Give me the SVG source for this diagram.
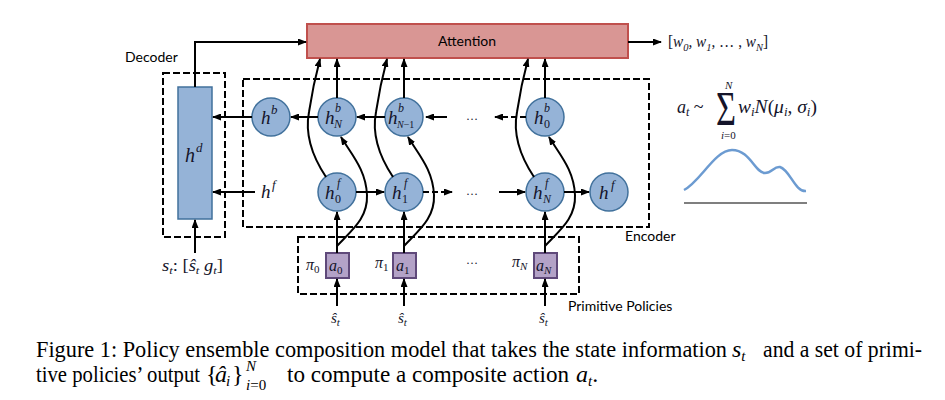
<svg xmlns="http://www.w3.org/2000/svg" width="945" height="400" viewBox="0 0 945 400">
<defs>
<marker id="ah" markerUnits="userSpaceOnUse" markerWidth="9" markerHeight="7" refX="8" refY="3.5" orient="auto">
<path d="M0,0 L9,3.5 L0,7 z" fill="#000"/>
</marker>
<style>
.m{font-family:"Liberation Serif","DejaVu Serif",serif;font-style:italic;fill:#14142a}
.r{font-family:"Liberation Serif","DejaVu Serif",serif;font-style:normal;fill:#14142a}
.lbl{font-family:Lato,"Open Sans",sans-serif;font-size:14px;fill:#000}
.cap{font-family:"Liberation Serif","Times New Roman",serif;fill:#000}
.node{fill:#95b3d7;stroke:#41719c;stroke-width:1.5}
.pol{fill:#b3a2c7;stroke:#5f497a;stroke-width:2}
.dash{fill:none;stroke:#000;stroke-width:2;stroke-dasharray:7,3}
.arr{fill:none;stroke:#000;stroke-width:2;marker-end:url(#ah)}
.darr{fill:none;stroke:#000;stroke-width:2;stroke-dasharray:6,3;marker-end:url(#ah)}
</style>
</defs>
<rect width="945" height="400" fill="#fff"/>

<g id="decoder">
<rect class="dash" x="163" y="73" width="62" height="164"/>
<text class="lbl" x="125" y="62">Decoder</text>
<rect class="node" x="178" y="87" width="34" height="132"/>
<text class="m" x="185" y="162" font-size="20">h</text><text class="m" x="196" y="152" font-size="13">d</text>
</g>
<g id="encoder">
<rect class="dash" x="243" y="79" width="406" height="148"/>
<text class="lbl" x="625" y="241">Encoder</text>
</g>
<g id="primitive-policies">
<rect class="dash" x="298" y="237" width="281" height="57"/>
<text class="lbl" x="568" y="311">Primitive Policies</text>
</g>

<g id="attention">
<rect x="307" y="24" width="321" height="34" fill="#d99694" stroke="#c0504d" stroke-width="2"/>
<text class="lbl" x="467" y="46" text-anchor="middle">Attention</text>
</g>
<g id="weights">
<text class="m" x="668" y="47" font-size="16" textLength="100" lengthAdjust="spacingAndGlyphs"><tspan class="r">[</tspan>w<tspan font-size="11" dy="4">0</tspan><tspan dy="-4">, w</tspan><tspan font-size="11" dy="4">1</tspan><tspan dy="-4" class="r">, … , </tspan>w<tspan font-size="11" dy="4">N</tspan><tspan dy="-4" class="r">]</tspan></text>
</g>

<g id="hb"><circle class="node" cx="271" cy="117" r="19"/><text class="m" x="261" y="124" font-size="19">h</text><text class="m" x="271" y="114" font-size="13">b</text></g>
<g id="hbN"><circle class="node" cx="337" cy="117" r="19"/><text class="m" x="325" y="124" font-size="19">h</text><text class="m" x="335" y="112" font-size="12">b</text><text class="m" x="334" y="128" font-size="12">N</text></g>
<g id="hbN1"><circle class="node" cx="404" cy="117" r="19"/><text class="m" x="388" y="124" font-size="19">h</text><text class="m" x="398" y="112" font-size="12">b</text><text class="m" x="397" y="128" font-size="10">N<tspan class="r">−1</tspan></text></g>
<g id="hb0"><circle class="node" cx="545" cy="117" r="19"/><text class="m" x="534" y="124" font-size="19">h</text><text class="m" x="544" y="112" font-size="12">b</text><text class="r" x="544" y="128" font-size="12">0</text></g>

<g id="hf-label"><text class="m" x="261" y="198" font-size="19">h</text><text class="m" x="272" y="189" font-size="13">f</text></g>
<g id="hf0"><circle class="node" cx="337" cy="192" r="19"/><text class="m" x="325" y="199" font-size="19">h</text><text class="m" x="337" y="187" font-size="12">f</text><text class="r" x="335" y="203" font-size="12">0</text></g>
<g id="hf1"><circle class="node" cx="404" cy="192" r="19"/><text class="m" x="392" y="199" font-size="19">h</text><text class="m" x="404" y="187" font-size="12">f</text><text class="r" x="402" y="203" font-size="12">1</text></g>
<g id="hfN"><circle class="node" cx="545" cy="192" r="19"/><text class="m" x="533" y="199" font-size="19">h</text><text class="m" x="545" y="187" font-size="12">f</text><text class="m" x="543" y="203" font-size="12">N</text></g>
<g id="hf"><circle class="node" cx="609" cy="192" r="19"/><text class="m" x="599" y="199" font-size="19">h</text><text class="m" x="611" y="189" font-size="13">f</text></g>

<g id="pi0"><rect class="pol" x="326" y="253" width="23" height="25"/><text class="m" x="329" y="271" font-size="16">a<tspan class="r" font-size="11" dy="3">0</tspan></text><text class="m" x="306" y="270" font-size="16">π<tspan class="r" font-size="11" dy="3">0</tspan></text></g>
<g id="pi1"><rect class="pol" x="393" y="253" width="23" height="25"/><text class="m" x="396" y="271" font-size="16">a<tspan class="r" font-size="11" dy="3">1</tspan></text><text class="m" x="375" y="268" font-size="16">π<tspan class="r" font-size="11" dy="3">1</tspan></text></g>
<g id="piN"><rect class="pol" x="534" y="253" width="23" height="25"/><text class="m" x="536" y="271" font-size="16">a<tspan font-size="11" dy="3">N</tspan></text><text class="m" x="512" y="267" font-size="16">π<tspan font-size="11" dy="3">N</tspan></text></g>

<g id="dots">
<text class="r" x="472" y="120" font-size="12" text-anchor="middle">…</text>
<text class="r" x="472" y="195" font-size="12" text-anchor="middle">…</text>
<text class="r" x="472" y="264" font-size="12" text-anchor="middle">…</text>
</g>

<g id="inputs">
<text class="m" x="331" y="323" font-size="15">ŝ<tspan font-size="11" dy="3">t</tspan></text>
<text class="m" x="398" y="323" font-size="15">ŝ<tspan font-size="11" dy="3">t</tspan></text>
<text class="m" x="539" y="323" font-size="15">ŝ<tspan font-size="11" dy="3">t</tspan></text>
<text class="m" x="162" y="271" font-size="16" textLength="61" lengthAdjust="spacingAndGlyphs">s<tspan font-size="11" dy="3">t</tspan><tspan class="r" dy="-3">: [</tspan>ŝ<tspan font-size="11" dy="3">t</tspan><tspan dy="-3"> g</tspan><tspan font-size="11" dy="3">t</tspan><tspan class="r" dy="-3">]</tspan></text>
</g>

<g id="connectors">
<path class="arr" d="M195,87 V42 H306"/>
<path class="arr" d="M628,42 H661"/>
<path class="arr" d="M252,117 H213"/>
<path class="arr" d="M318,117 H291"/>
<path class="arr" d="M385,117 H357"/>
<path class="arr" d="M447,117 H426"/>
<path class="darr" d="M526,117 H495"/>
<path class="arr" d="M255,192 H213"/>
<path class="arr" d="M356,192 H384"/>
<path class="darr" d="M423,192 H452"/>
<path class="arr" d="M499,192 H525"/>
<path class="arr" d="M564,192 H589"/>
<path class="arr" d="M337,98 V59"/>
<path class="arr" d="M404,98 V59"/>
<path class="arr" d="M545,98 V59"/>
<path class="arr" d="M326,177 C312,156 305,133 309,112 C312,92 316,74 320,59"/>
<path class="arr" d="M393,177 C379,156 372,133 376,112 C379,92 383,74 387,59"/>
<path class="arr" d="M534,177 C520,156 513,133 517,112 C520,92 524,74 528,59"/>
<path class="arr" d="M337,253 V212"/>
<path class="arr" d="M404,253 V212"/>
<path class="arr" d="M545,253 V212"/>
<path class="arr" d="M337,246 C352,230 368,218 367,195 C366,170 352,155 341,137"/>
<path class="arr" d="M404,246 C419,230 435,218 434,195 C433,170 419,155 408,137"/>
<path class="arr" d="M545,246 C560,230 576,218 575,195 C574,170 560,155 549,137"/>
<path class="arr" d="M337,306 V279"/>
<path class="arr" d="M404,306 V279"/>
<path class="arr" d="M545,306 V279"/>
<path class="arr" d="M195,253 V220"/>
</g>

<g id="formula">
<text class="m" x="677" y="113" font-size="18">a<tspan font-size="12" dy="3">t</tspan><tspan class="r" dy="-3"> ~</tspan></text>
<text class="r" x="716" y="125" font-size="48" textLength="20" lengthAdjust="spacingAndGlyphs">Σ</text>
<text class="m" x="725" y="89" font-size="11">N</text>
<text class="m" x="721" y="139" font-size="11">i<tspan class="r">=0</tspan></text>
<text class="m" x="738" y="113" font-size="18" textLength="79" lengthAdjust="spacingAndGlyphs">w<tspan font-size="12" dy="3">i</tspan><tspan dy="-3">N</tspan><tspan class="r">(</tspan>μ<tspan font-size="12" dy="3">i</tspan><tspan class="r" dy="-3">, </tspan>σ<tspan font-size="12" dy="3">i</tspan><tspan class="r" dy="-3">)</tspan></text>
<path d="M684,190 C700,182 715,150 732,150 C750,150 755,173 765,173 C772,173 774,166 780,167 C790,170 795,192 806,191" fill="none" stroke="#6c9bd1" stroke-width="2.5"/>
<line x1="684" y1="203" x2="807" y2="203" stroke="#555" stroke-width="1.5"/>
</g>

<g id="caption" font-size="24">
<text class="cap" x="36" y="357" textLength="691" lengthAdjust="spacingAndGlyphs">Figure 1: Policy ensemble composition model that takes the state information</text>
<text class="cap" x="732" y="357" font-style="italic">s<tspan font-size="15" dy="4">t</tspan></text>
<text class="cap" x="763" y="357" textLength="159" lengthAdjust="spacingAndGlyphs">and a set of primi-</text>
<text class="cap" x="36" y="382" textLength="164" lengthAdjust="spacingAndGlyphs">tive policies’ output</text>
<text class="cap" x="206" y="382">{</text>
<text class="cap" x="215" y="382" font-style="italic">â</text>
<text class="cap" x="226" y="386" font-size="15" font-style="italic">i</text>
<text class="cap" x="232" y="382">}</text>
<text class="cap" x="246" y="371" font-size="15" font-style="italic">N</text>
<text class="cap" x="246" y="390" font-size="15"><tspan font-style="italic">i</tspan>=0</text>
<text class="cap" x="287" y="382" textLength="282" lengthAdjust="spacingAndGlyphs">to compute a composite action</text>
<text class="cap" x="576" y="382"><tspan font-style="italic">a</tspan><tspan font-style="italic" font-size="15" dy="4">t</tspan><tspan dy="-4">.</tspan></text>
</g>
</svg>
